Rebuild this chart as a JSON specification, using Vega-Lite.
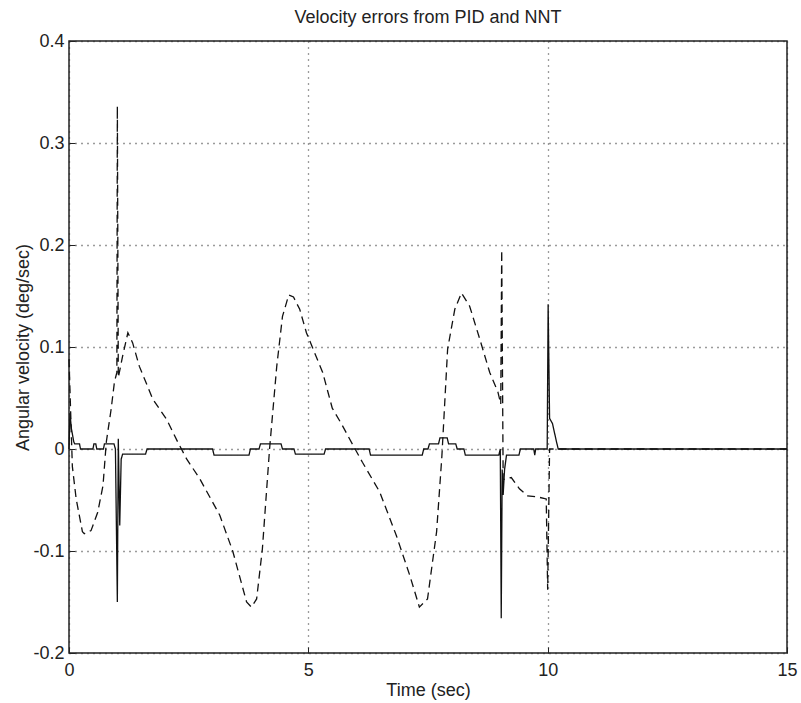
{
  "$schema": "https://vega.github.io/schema/vega-lite/v6.json",
  "width": 718,
  "height": 612,
  "autosize": {"type": "none"},
  "padding": {"left": 69, "top": 41, "right": 14, "bottom": 50},
  "background": "white",
  "title": {
    "text": "Velocity errors from PID and NNT",
    "font": "Liberation Sans",
    "fontSize": 18,
    "fontWeight": "normal",
    "color": "#222",
    "baseline": "alphabetic",
    "offset": -9
  },
  "config": {
    "view": {"stroke": "#222", "strokeWidth": 1.5},
    "axis": {
      "labelFont": "Liberation Sans",
      "titleFont": "Liberation Sans",
      "labelFontSize": 18,
      "titleFontSize": 18,
      "titleFontWeight": "normal",
      "labelColor": "#222",
      "titleColor": "#222",
      "domain": false,
      "tickColor": "#222",
      "tickSize": -6,
      "tickWidth": 1,
      "grid": true,
      "gridColor": "#222",
      "gridDash": [1, 5],
      "gridWidth": 1.3,
      "gridOpacity": 0.9
    }
  },
  "data": {
    "values": [
      {"series": "PID", "t": 0, "v": 0.088},
      {"series": "PID", "t": 0.07, "v": -0.017},
      {"series": "PID", "t": 0.15, "v": -0.049},
      {"series": "PID", "t": 0.28, "v": -0.081},
      {"series": "PID", "t": 0.32, "v": -0.083},
      {"series": "PID", "t": 0.46, "v": -0.08},
      {"series": "PID", "t": 0.6, "v": -0.062},
      {"series": "PID", "t": 0.71, "v": -0.036},
      {"series": "PID", "t": 0.78, "v": 0.007},
      {"series": "PID", "t": 0.88, "v": 0.039},
      {"series": "PID", "t": 0.95, "v": 0.066},
      {"series": "PID", "t": 1.0, "v": 0.075},
      {"series": "PID", "t": 1.01, "v": 0.336},
      {"series": "PID", "t": 1.03, "v": 0.07},
      {"series": "PID", "t": 1.12, "v": 0.091},
      {"series": "PID", "t": 1.23, "v": 0.114},
      {"series": "PID", "t": 1.33, "v": 0.104},
      {"series": "PID", "t": 1.47, "v": 0.081},
      {"series": "PID", "t": 1.75, "v": 0.049},
      {"series": "PID", "t": 2.04, "v": 0.029},
      {"series": "PID", "t": 2.27, "v": 0.007},
      {"series": "PID", "t": 2.46, "v": -0.01},
      {"series": "PID", "t": 2.73, "v": -0.029},
      {"series": "PID", "t": 3.15, "v": -0.065},
      {"series": "PID", "t": 3.42, "v": -0.1},
      {"series": "PID", "t": 3.71, "v": -0.15},
      {"series": "PID", "t": 3.81, "v": -0.155},
      {"series": "PID", "t": 3.92, "v": -0.147},
      {"series": "PID", "t": 4.04, "v": -0.098},
      {"series": "PID", "t": 4.19, "v": 0},
      {"series": "PID", "t": 4.34, "v": 0.081},
      {"series": "PID", "t": 4.46, "v": 0.13},
      {"series": "PID", "t": 4.59, "v": 0.151},
      {"series": "PID", "t": 4.69, "v": 0.149},
      {"series": "PID", "t": 4.82, "v": 0.137},
      {"series": "PID", "t": 4.96, "v": 0.114},
      {"series": "PID", "t": 5.3, "v": 0.075},
      {"series": "PID", "t": 5.5, "v": 0.04},
      {"series": "PID", "t": 5.7, "v": 0.024},
      {"series": "PID", "t": 5.86, "v": 0.01},
      {"series": "PID", "t": 6.13, "v": -0.013},
      {"series": "PID", "t": 6.49, "v": -0.042},
      {"series": "PID", "t": 6.84, "v": -0.085},
      {"series": "PID", "t": 7.12, "v": -0.124},
      {"series": "PID", "t": 7.32, "v": -0.155},
      {"series": "PID", "t": 7.49, "v": -0.147},
      {"series": "PID", "t": 7.68, "v": -0.081},
      {"series": "PID", "t": 7.79, "v": -0.007},
      {"series": "PID", "t": 7.91, "v": 0.098},
      {"series": "PID", "t": 8.06, "v": 0.137},
      {"series": "PID", "t": 8.2, "v": 0.153},
      {"series": "PID", "t": 8.37, "v": 0.14},
      {"series": "PID", "t": 8.58, "v": 0.108},
      {"series": "PID", "t": 8.79, "v": 0.075},
      {"series": "PID", "t": 8.96, "v": 0.056},
      {"series": "PID", "t": 9.02, "v": 0.044},
      {"series": "PID", "t": 9.04, "v": 0.195},
      {"series": "PID", "t": 9.07, "v": -0.03},
      {"series": "PID", "t": 9.24, "v": -0.028},
      {"series": "PID", "t": 9.41, "v": -0.039},
      {"series": "PID", "t": 9.58, "v": -0.046},
      {"series": "PID", "t": 9.79, "v": -0.047},
      {"series": "PID", "t": 9.97, "v": -0.049},
      {"series": "PID", "t": 10.0, "v": -0.138},
      {"series": "PID", "t": 10.04, "v": 0},
      {"series": "PID", "t": 15, "v": 0},
      {"series": "NNT", "t": 0, "v": 0},
      {"series": "NNT", "t": 0.02, "v": 0.035},
      {"series": "NNT", "t": 0.05, "v": 0.02},
      {"series": "NNT", "t": 0.1, "v": 0.007},
      {"series": "NNT", "t": 0.12, "v": 0.005},
      {"series": "NNT", "t": 0.22, "v": 0.005},
      {"series": "NNT", "t": 0.24, "v": 0},
      {"series": "NNT", "t": 0.5, "v": 0},
      {"series": "NNT", "t": 0.52, "v": 0.005},
      {"series": "NNT", "t": 0.56, "v": 0.005},
      {"series": "NNT", "t": 0.58, "v": 0},
      {"series": "NNT", "t": 0.72, "v": 0},
      {"series": "NNT", "t": 0.74, "v": 0.005},
      {"series": "NNT", "t": 0.94, "v": 0.005},
      {"series": "NNT", "t": 0.97, "v": 0},
      {"series": "NNT", "t": 1.01, "v": -0.15},
      {"series": "NNT", "t": 1.03, "v": 0.01},
      {"series": "NNT", "t": 1.06, "v": -0.075},
      {"series": "NNT", "t": 1.09, "v": -0.01},
      {"series": "NNT", "t": 1.12, "v": -0.005},
      {"series": "NNT", "t": 1.6, "v": -0.005},
      {"series": "NNT", "t": 1.63, "v": 0},
      {"series": "NNT", "t": 3.0, "v": 0},
      {"series": "NNT", "t": 3.03, "v": -0.006},
      {"series": "NNT", "t": 3.76, "v": -0.006},
      {"series": "NNT", "t": 3.79, "v": 0},
      {"series": "NNT", "t": 3.97, "v": 0},
      {"series": "NNT", "t": 4.0, "v": 0.005},
      {"series": "NNT", "t": 4.43, "v": 0.005},
      {"series": "NNT", "t": 4.46, "v": 0},
      {"series": "NNT", "t": 4.7, "v": 0},
      {"series": "NNT", "t": 4.73, "v": -0.005},
      {"series": "NNT", "t": 5.33, "v": -0.005},
      {"series": "NNT", "t": 5.36, "v": 0},
      {"series": "NNT", "t": 6.27, "v": 0},
      {"series": "NNT", "t": 6.3, "v": -0.006},
      {"series": "NNT", "t": 7.38, "v": -0.006},
      {"series": "NNT", "t": 7.41, "v": 0},
      {"series": "NNT", "t": 7.5, "v": 0},
      {"series": "NNT", "t": 7.53, "v": 0.005},
      {"series": "NNT", "t": 7.72, "v": 0.005},
      {"series": "NNT", "t": 7.75, "v": 0.011},
      {"series": "NNT", "t": 7.9, "v": 0.011},
      {"series": "NNT", "t": 7.93, "v": 0.005},
      {"series": "NNT", "t": 8.08, "v": 0.005},
      {"series": "NNT", "t": 8.11, "v": 0},
      {"series": "NNT", "t": 8.25, "v": 0},
      {"series": "NNT", "t": 8.28, "v": -0.006},
      {"series": "NNT", "t": 8.98, "v": -0.006},
      {"series": "NNT", "t": 9.01, "v": 0},
      {"series": "NNT", "t": 9.03, "v": -0.166},
      {"series": "NNT", "t": 9.05, "v": -0.02},
      {"series": "NNT", "t": 9.07, "v": -0.045},
      {"series": "NNT", "t": 9.1, "v": -0.02},
      {"series": "NNT", "t": 9.14, "v": -0.006},
      {"series": "NNT", "t": 9.4, "v": -0.006},
      {"series": "NNT", "t": 9.43, "v": 0},
      {"series": "NNT", "t": 9.71, "v": 0},
      {"series": "NNT", "t": 9.73, "v": -0.006},
      {"series": "NNT", "t": 9.75, "v": 0},
      {"series": "NNT", "t": 9.99, "v": 0},
      {"series": "NNT", "t": 10.01, "v": 0.142},
      {"series": "NNT", "t": 10.04, "v": 0.03},
      {"series": "NNT", "t": 10.1, "v": 0.025},
      {"series": "NNT", "t": 10.18, "v": 0.008},
      {"series": "NNT", "t": 10.22, "v": 0},
      {"series": "NNT", "t": 15, "v": 0}
    ]
  },
  "mark": {"type": "line", "color": "#111", "strokeWidth": 1.3},
  "encoding": {
    "x": {
      "field": "t",
      "type": "quantitative",
      "scale": {"domain": [0, 15], "nice": false, "zero": false},
      "axis": {"values": [0, 5, 10, 15], "title": "Time (sec)", "labelPadding": 14, "titlePadding": 2, "labelFlush": false}
    },
    "y": {
      "field": "v",
      "type": "quantitative",
      "scale": {"domain": [-0.2, 0.4], "nice": false, "zero": false},
      "axis": {"values": [-0.2, -0.1, 0, 0.1, 0.2, 0.3, 0.4], "title": "Angular velocity (deg/sec)", "labelPadding": 11, "titlePadding": 0, "labelFlush": false, "format": "~g", "labelExpr": "replace(datum.label, '\u2212', '-')"}
    },
    "detail": {"field": "series"},
    "strokeDash": {
      "field": "series",
      "type": "nominal",
      "scale": {"domain": ["PID", "NNT"], "range": [[8, 5], [1, 0]]},
      "legend": null
    }
  }
}
